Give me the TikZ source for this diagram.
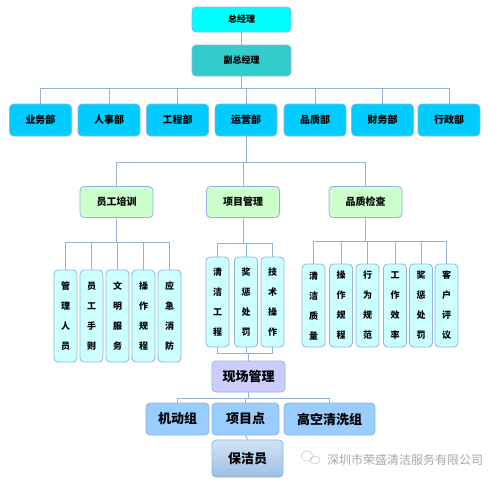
\documentclass[tikz,border=0pt]{standalone}
\usepackage{fontspec}
\newfontfamily\cjk{Noto Sans CJK SC}
\usetikzlibrary{calc}

\definecolor{linkblue}{HTML}{95B3D7}
\definecolor{edgeblue}{HTML}{8EB4E3}
\definecolor{gmfill}{HTML}{00FFFF}
\definecolor{vgmfill}{HTML}{33CCCC}
\definecolor{deptfill}{HTML}{00CCFF}
\definecolor{groupfill}{HTML}{CCFFCC}
\definecolor{leaffill}{HTML}{CCFFFF}
\definecolor{sitefill}{HTML}{CCCCFF}
\definecolor{teamfill}{HTML}{99CCFF}
\definecolor{cleanertop}{HTML}{D3E3F5}
\definecolor{cleanerbot}{HTML}{9CBFE4}

\begin{document}
\begin{tikzpicture}[x=1pt, y=-1pt,
	box/.style={draw=edgeblue, line width=0.8pt, rounded corners=4pt, inner sep=0pt, align=center, font=\cjk\bfseries\fontsize{10}{10}\selectfont},
	leafbox/.style={box, fill=leaffill, minimum width=23pt, font=\cjk\bfseries\fontsize{9}{20}\selectfont},
	link/.style={draw=linkblue, line width=1pt}]
	\useasboundingbox (0, 0) rectangle (499, 483);

	% top
	\node[box, fill=gmfill, minimum width=99pt, minimum height=25pt, font=\cjk\bfseries\fontsize{9}{9}\selectfont] (gm) at (241.5, 19.5) {总经理};
	\node[box, fill=vgmfill, minimum width=99pt, minimum height=31pt, font=\cjk\bfseries\fontsize{9}{9}\selectfont] (vgm) at (241.5, 60.5) {副总经理};
	\draw[link] (gm.south) -- (vgm.north);

	% departments
	\coordinate (hub1) at ($(vgm.south)+(0, 12)$);
	\draw[link] (vgm.south) -- (hub1);
	\foreach \name/\cx/\txt in {sales/40.5/业务部, hr/109/人事部, eng/177.5/工程部, ops/246/运营部, qa/315/品质部, fin/382.5/财务部, adm/449/行政部} {
		\node[box, fill=deptfill, minimum width=62pt, minimum height=32pt] (\name) at (\cx, 120) {\txt};
		\draw[link] (hub1) -| (\name.north);
	}

	% operations
	\coordinate (hub2) at ($(ops.south)+(0, 26)$);
	\draw[link] (ops.south) -- (hub2);
	\foreach \name/\cx/\txt in {train/116.5/员工培训, proj/243/项目管理, check/365.5/品质检查} {
		\node[box, fill=groupfill, minimum width=73pt, minimum height=31pt] (\name) at (\cx, 202) {\txt};
		\draw[link] (hub2) -| (\name.north);
	}

	% training
	\coordinate (hubA) at ($(train.south)+(0, 25)$);
	\draw[link] (train.south) -- (hubA);
	\foreach \i/\cx/\txt in {1/65.5/管\\理\\人\\员, 2/91.5/员\\工\\手\\则, 3/117.5/文\\明\\服\\务, 4/143.5/操\\作\\规\\程, 5/169.5/应\\急\\消\\防} {
		\node[leafbox, minimum height=92pt] (ta\i) at (\cx, 316) {\txt};
		\draw[link] (hubA) -| (ta\i.north);
	}

	% project
	\coordinate (hubB) at ($(proj.south)+(0, 26)$);
	\draw[link] (proj.south) -- (hubB);
	\foreach \i/\cx/\txt in {1/217.5/清\\洁\\工\\程, 2/246/奖\\惩\\处\\罚, 3/272.5/技\\术\\操\\作} {
		\node[leafbox, minimum height=90pt] (pb\i) at (\cx, 302) {\txt};
		\draw[link] (hubB) -| (pb\i.north);
	}

	% checks
	\coordinate (hubQ) at ($(check.south)+(0, 24)$);
	\draw[link] (check.south) -- (hubQ);
	\foreach \i/\cx/\txt in {1/313.5/清\\洁\\质\\量, 2/341/操\\作\\规\\程, 3/367.5/行\\为\\规\\范, 4/395/工\\作\\效\\率, 5/421/奖\\惩\\处\\罚, 6/446.5/客\\户\\评\\议} {
		\node[leafbox, minimum height=83pt] (qc\i) at (\cx, 305.5) {\txt};
		\draw[link] (hubQ) -| (qc\i.north);
	}

	% site
	\node[box, fill=sitefill, minimum width=73pt, minimum height=31pt, font=\cjk\bfseries\fontsize{13}{13}\selectfont] (site) at (248.5, 376.5) {现场管理};
	\coordinate (hubC) at ($(site.north)+(0, -7)$);
	\draw[link] (pb1.south) |- (hubC) -| (pb3.south);
	\draw[link] (pb2.south) |- (hubC) -- (site.north);

	\coordinate (hubD) at ($(site.south)+(0, 6)$);
	\draw[link] (site.south) -- (hubD);
	\foreach \name/\cx/\boxw/\txt in {mobile/177.5/63/机动组, point/245.5/67/项目点, high/329.5/91/高空清洗组} {
		\node[box, fill=teamfill, minimum width=\boxw pt, minimum height=32pt, font=\cjk\bfseries\fontsize{13}{13}\selectfont] (\name) at (\cx, 419) {\txt};
		\draw[link] (hubD) -| (\name.north);
	}

	\node[box, top color=cleanertop, bottom color=cleanerbot, minimum width=71pt, minimum height=37pt, font=\cjk\bfseries\fontsize{13}{13}\selectfont] (cleaner) at (247.5, 458.5) {保洁员};
	\draw[link] (point.south) -- (cleaner.north);

	% watermark
	\draw[gray!45, line width=0.6pt] (307, 456) ellipse (6 and 5) (315, 460) ellipse (5 and 4);
	\node[text=gray!70, font=\cjk\fontsize{12}{12}\selectfont, inner sep=0pt] (mark) at (405, 460) {深圳市荣盛清洁服务有限公司};
\end{tikzpicture}
\end{document}
